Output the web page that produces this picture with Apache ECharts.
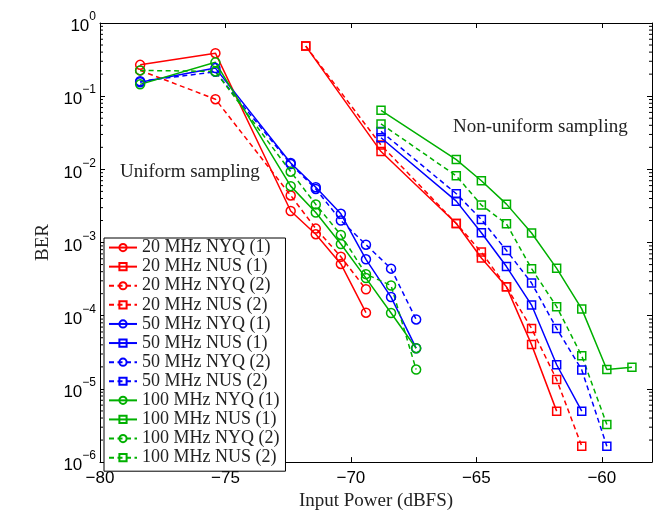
<!DOCTYPE html>
<html><head><meta charset="utf-8">
<script src="https://cdn.jsdelivr.net/npm/echarts@6/dist/echarts.min.js"></script>
<style>html,body{margin:0;padding:0;background:#fff}#c{width:655px;height:516px}</style>
</head><body><div id="c"></div>
<script>
// ---- data ----
const xNYQ = [-78.4, -75.4, -72.4, -71.4, -70.4, -69.4, -68.4, -67.4];
const xNUS = [-71.8, -68.8, -65.8, -64.8, -63.8, -62.8, -61.8, -60.8, -59.8, -58.8];
const xTicks = [-80, -75, -70, -65, -60];
const seriesNames = ['20 MHz NYQ (1)','20 MHz NUS (1)','20 MHz NYQ (2)','20 MHz NUS (2)',
  '50 MHz NYQ (1)','50 MHz NUS (1)','50 MHz NYQ (2)','50 MHz NUS (2)',
  '100 MHz NYQ (1)','100 MHz NUS (1)','100 MHz NYQ (2)','100 MHz NUS (2)'];
const nyq20_1 = [0.268, 0.387, 0.0027, 0.0013, 5.1e-4, 1.1e-4];
const nus20_1 = [0.484, 0.0175, 0.00182, 6.15e-4, 2.48e-4, 4.03e-5, 4.97e-6];
const nyq20_2 = [0.225, 0.091, 0.0044, 0.00155, 6.4e-4, 2.3e-4];
const nus20_2 = [0.484, 0.0215, 0.00182, 7.4e-4, 2.48e-4, 6.7e-5, 1.34e-5, 1.65e-6];
const nyq50_1 = [0.155, 0.242, 0.0122, 0.0057, 0.00247, 5.9e-4, 1.8e-4, 3.6e-5];
const nus50_1 = [0.027, 0.00368, 0.00136, 4.7e-4, 1.4e-4, 2.14e-5, 4.97e-6];
const nyq50_2 = [0.16, 0.215, 0.0118, 0.0054, 0.0020, 9.35e-4, 4.4e-4, 8.9e-5];
const nus50_2 = [0.033, 0.00465, 0.00206, 7.8e-4, 2.8e-4, 6.7e-5, 1.82e-5, 1.65e-6];
const nyq100_1 = [0.145, 0.29, 0.0059, 0.00257, 9.55e-4, 3.27e-4, 1.09e-4, 3.6e-5];
const nus100_1 = [0.064, 0.0136, 0.0070, 0.00335, 0.00135, 4.44e-4, 1.24e-4, 1.84e-5, 1.97e-5];
const nyq100_2 = [0.225, 0.218, 0.0093, 0.00332, 0.00127, 3.7e-4, 2.59e-4, 1.84e-5];
const nus100_2 = [0.0418, 0.00815, 0.00325, 0.0018, 4.4e-4, 1.33e-4, 2.83e-5, 3.27e-6];

// ---- build ----
const RED = '#ff0000', BLUE = '#0000ff', GREEN = '#00b000';
const DASH = [5, 3.5];
function pairs(xs, ys, offset) { return ys.map((y, i) => [xs[i + offset], y]); }
function mk(name, color, dashed, sym, data) {
  return {
    name, type: 'line', data, color,
    symbol: sym === 'o' ? 'circle' : 'rect',
    symbolSize: sym === 'o' ? 9 : 8,
    showSymbol: true,
    lineStyle: { color, width: 1.5, type: dashed ? DASH : 'solid' },
    itemStyle: { color: 'rgba(255,255,255,0)', borderColor: color, borderWidth: 1.5 },
    emphasis: { disabled: true },
    z: 3
  };
}
const series = [
  mk(seriesNames[0], RED, false, 'o', pairs(xNYQ, nyq20_1, 0)),
  mk(seriesNames[1], RED, false, 's', pairs(xNUS, nus20_1, 0)),
  mk(seriesNames[2], RED, true, 'o', pairs(xNYQ, nyq20_2, 0)),
  mk(seriesNames[3], RED, true, 's', pairs(xNUS, nus20_2, 0)),
  mk(seriesNames[4], BLUE, false, 'o', pairs(xNYQ, nyq50_1, 0)),
  mk(seriesNames[5], BLUE, false, 's', pairs(xNUS, nus50_1, 1)),
  mk(seriesNames[6], BLUE, true, 'o', pairs(xNYQ, nyq50_2, 0)),
  mk(seriesNames[7], BLUE, true, 's', pairs(xNUS, nus50_2, 1)),
  mk(seriesNames[8], GREEN, false, 'o', pairs(xNYQ, nyq100_1, 0)),
  mk(seriesNames[9], GREEN, false, 's', pairs(xNUS, nus100_1, 1)),
  mk(seriesNames[10], GREEN, true, 'o', pairs(xNYQ, nyq100_2, 0)),
  mk(seriesNames[11], GREEN, true, 's', pairs(xNUS, nus100_2, 1))
];
// log minor ticks (2..9 x 10^n) drawn through the axis scale
const minorVals = [];
for (let e = -6; e < 0; e++) for (let k = 2; k <= 9; k++) minorVals.push(k * Math.pow(10, e));
const XMIN = -80, XMAX = -58;
series.push({
  type: 'custom', silent: true, z: 5,
  data: minorVals.map(v => [XMIN, v]),
  encode: { x: 0, y: 1 },
  renderItem: (params, api) => {
    const v = api.value(1);
    const a = api.coord([XMIN, v]), b = api.coord([XMAX, v]);
    return { type: 'group', children: [
      { type: 'line', shape: { x1: a[0], y1: a[1], x2: a[0] + 3, y2: a[1] }, style: { stroke: '#000', lineWidth: 1 } },
      { type: 'line', shape: { x1: b[0], y1: b[1], x2: b[0] - 3, y2: b[1] }, style: { stroke: '#000', lineWidth: 1 } }
    ]};
  }
});

const fmtX = v => xTicks.indexOf(v) >= 0 ? (v < 0 ? '\u2212' + Math.abs(v) : String(v)) : '';
const fmtY = v => { const e = Math.round(Math.log10(v)); return '{b|10}{s|' + (e < 0 ? '\u2212' + (-e) : e) + '}'; };
const axisLineS = { show: true, lineStyle: { color: '#000', width: 1 } };
const serif = '"Liberation Serif", "Times New Roman", serif';
const sans = '"Liberation Sans", Arial, sans-serif';

const chart = echarts.init(document.getElementById('c'), null, { renderer: 'canvas' });
chart.setOption({
  animation: false,
  backgroundColor: '#fff',
  grid: { left: 100, top: 23, width: 554, height: 451, containLabel: false },
  xAxis: [
    { type: 'value', min: XMIN, max: XMAX, interval: 5, position: 'bottom',
      axisLine: axisLineS, splitLine: { show: false },
      axisTick: { show: true, inside: true, length: 5, lineStyle: { color: '#000' } },
      axisLabel: { formatter: fmtX, color: '#000', fontFamily: sans, fontSize: 17, margin: 8 },
      name: 'Input Power (dBFS)', nameLocation: 'middle', nameGap: 21,
      nameTextStyle: { fontFamily: serif, fontSize: 19, color: '#222' } },
    { type: 'value', min: XMIN, max: XMAX, interval: 5, position: 'top',
      axisLine: axisLineS, splitLine: { show: false },
      axisTick: { show: true, inside: true, length: 5, lineStyle: { color: '#000' } },
      axisLabel: { show: false } }
  ],
  yAxis: [
    { type: 'log', logBase: 10, min: 1e-6, max: 1, interval: 1, position: 'left',
      axisLine: axisLineS, splitLine: { show: false },
      axisTick: { show: true, inside: true, length: 5, lineStyle: { color: '#000' } },
      axisLabel: { formatter: fmtY, margin: 4, color: '#000',
        rich: { b: { fontFamily: sans, fontSize: 17, color: '#000', padding: [7, 0, 0, 0], verticalAlign: 'bottom' },
                s: { fontFamily: sans, fontSize: 12, color: '#000', verticalAlign: 'top' } } },
      name: 'BER', nameLocation: 'middle', nameGap: 37, nameRotate: 90,
      nameTextStyle: { fontFamily: serif, fontSize: 19, color: '#222' } },
    { type: 'log', logBase: 10, min: 1e-6, max: 1, interval: 1, position: 'right',
      axisLine: axisLineS, splitLine: { show: false },
      axisTick: { show: true, inside: true, length: 5, lineStyle: { color: '#000' } },
      axisLabel: { show: false } }
  ],
  legend: {
    data: seriesNames, orient: 'vertical', left: 104, top: 238,
    itemWidth: 28, itemHeight: 9, itemGap: 0, padding: [0, 6, 4, 4],
    backgroundColor: '#fff', borderColor: '#000', borderWidth: 1,
    selectedMode: false,
    textStyle: { fontFamily: serif, fontSize: 18, color: '#222', lineHeight: 19.1 }
  },
  graphic: [
    { type: 'text', x: 120, y: 172, style: { text: 'Uniform sampling', font: '19px "Liberation Serif"', fill: '#222', verticalAlign: 'middle' } },
    { type: 'text', x: 453, y: 127, style: { text: 'Non-uniform sampling', font: '19px "Liberation Serif"', fill: '#222', verticalAlign: 'middle' } }
  ],
  series
});
</script></body></html>
